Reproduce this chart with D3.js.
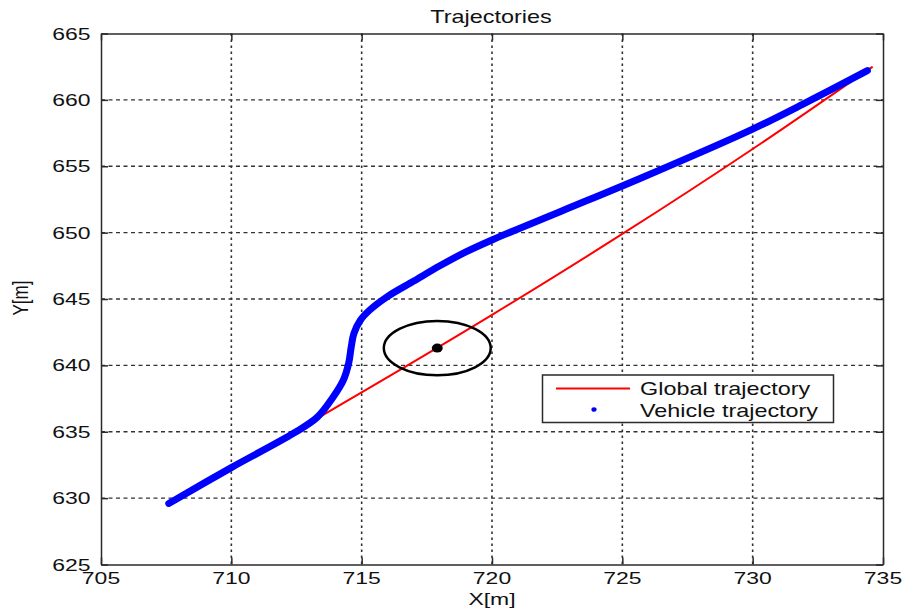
<!DOCTYPE html>
<html>
<head>
<meta charset="utf-8">
<script src="https://cdn.jsdelivr.net/npm/d3@7"></script>
<style>
  body { margin: 0; background: #fff; }
  text { font-family: "Liberation Sans", Arial, sans-serif; fill: #111; }
</style>
</head>
<body>
<svg id="chart" width="919" height="609"></svg>
<script>
// tick values
const xTicks = [705, 710, 715, 720, 725, 730, 735];
const yTicks = [625, 630, 635, 640, 645, 650, 655, 660, 665];

// global (reference) trajectory
const globalX = [707.6, 713.2, 720.0, 725.0, 730.0, 734.6];
const globalY = [629.6, 635.9, 643.8, 649.9, 656.3, 662.5];

// vehicle trajectory
const vehicleX = [707.6, 710.0, 712.4, 713.3, 713.9, 714.3, 714.5, 714.6, 714.7, 714.95, 715.3, 716.0, 717.0, 718.0, 719.0, 720.0, 722.7, 725.7, 730.0, 732.1, 734.4];
const vehicleY = [629.6, 632.3, 634.9, 636.1, 637.6, 638.9, 640.15, 641.4, 642.4, 643.4, 644.15, 645.2, 646.35, 647.5, 648.55, 649.45, 651.65, 654.1, 657.8, 659.85, 662.2];

// obstacle
const obstacleCenter = [717.9, 641.3];
const obstacleRadius = 2.05;

const legendLabels = ["Global trajectory", "Vehicle trajectory"];

const svg = d3.select("#chart");
const plotL = 101, plotR = 883, plotT = 33.5, plotB = 564.5;
const stretch = 1.35;   // the original figure is stretched sideways

const x = d3.scaleLinear().domain([705, 735]).range([plotL, plotR]);
const y = d3.scaleLinear().domain([625, 665]).range([plotB, plotT]);

function label(g, px, py, txt, size, anchor, sx) {
  return g.append("text")
    .attr("transform", `translate(${px},${py}) scale(${sx || stretch},1)`)
    .attr("text-anchor", anchor)
    .attr("font-size", size + "px")
    .text(txt);
}

// white plot background
svg.append("rect")
  .attr("x", plotL).attr("y", plotT)
  .attr("width", plotR - plotL).attr("height", plotB - plotT)
  .attr("fill", "#fff");

// grid
svg.append("g").selectAll("line")
  .data(xTicks.slice(1, -1))
  .enter().append("line")
  .attr("x1", d => x(d)).attr("x2", d => x(d))
  .attr("y1", plotT).attr("y2", plotB)
  .attr("stroke", "#333").attr("stroke-width", 1.6)
  .attr("stroke-dasharray", "2.5,3.5");

svg.append("g").selectAll("line")
  .data(yTicks.slice(1, -1))
  .enter().append("line")
  .attr("x1", plotL).attr("x2", plotR)
  .attr("y1", d => y(d)).attr("y2", d => y(d))
  .attr("stroke", "#333").attr("stroke-width", 1.4)
  .attr("stroke-dasharray", "4,3.5");

// axes (inward ticks on all sides)
const axisStyle = g => {
  g.select(".domain").attr("stroke", "#2a2a2a").attr("stroke-width", 1.5);
  g.selectAll(".tick line").attr("stroke", "#2a2a2a").attr("stroke-width", 1.5);
};
svg.append("g").attr("transform", `translate(0,${plotB})`)
  .call(d3.axisBottom(x).tickValues(xTicks).tickSize(-7).tickSizeOuter(0).tickFormat(""))
  .call(axisStyle);
svg.append("g").attr("transform", `translate(0,${plotT})`)
  .call(d3.axisTop(x).tickValues(xTicks).tickSize(-7).tickSizeOuter(0).tickFormat(""))
  .call(axisStyle);
svg.append("g").attr("transform", `translate(${plotL},0)`)
  .call(d3.axisLeft(y).tickValues(yTicks).tickSize(-7).tickSizeOuter(0).tickFormat(""))
  .call(axisStyle);
svg.append("g").attr("transform", `translate(${plotR},0)`)
  .call(d3.axisRight(y).tickValues(yTicks).tickSize(-7).tickSizeOuter(0).tickFormat(""))
  .call(axisStyle);

// tick labels
const tl = svg.append("g");
xTicks.forEach(d => label(tl, x(d), 584, d, 17, "middle"));
yTicks.forEach(d => label(tl, 90.5, y(d) + 6, d, 17, "end"));

// global trajectory
svg.append("path")
  .datum(d3.zip(globalX, globalY))
  .attr("d", d3.line().x(d => x(d[0])).y(d => y(d[1])).curve(d3.curveMonotoneX))
  .attr("fill", "none")
  .attr("stroke", "#ff0000")
  .attr("stroke-width", 2);

// vehicle trajectory (dense dot markers -> thick band)
svg.append("path")
  .datum(d3.zip(vehicleX, vehicleY))
  .attr("d", d3.line().x(d => x(d[0])).y(d => y(d[1])).curve(d3.curveCatmullRom))
  .attr("fill", "none")
  .attr("stroke", "#0000ff")
  .attr("stroke-width", 7)
  .attr("stroke-linecap", "round")
  .attr("stroke-linejoin", "round");

// obstacle
svg.append("ellipse")
  .attr("cx", x(obstacleCenter[0])).attr("cy", y(obstacleCenter[1]))
  .attr("rx", x(obstacleCenter[0] + obstacleRadius) - x(obstacleCenter[0]))
  .attr("ry", y(obstacleCenter[1]) - y(obstacleCenter[1] + obstacleRadius))
  .attr("fill", "none").attr("stroke", "#000").attr("stroke-width", 2.5);
svg.append("ellipse")
  .attr("cx", x(obstacleCenter[0])).attr("cy", y(obstacleCenter[1]))
  .attr("rx", 5.5).attr("ry", 4.5)
  .attr("fill", "#000");

// legend
const lg = svg.append("g");
lg.append("rect")
  .attr("x", 542.5).attr("y", 375).attr("width", 291).attr("height", 47.5)
  .attr("fill", "#fff").attr("stroke", "#2a2a2a").attr("stroke-width", 1.5);
lg.append("line")
  .attr("x1", 556).attr("x2", 630).attr("y1", 388.5).attr("y2", 388.5)
  .attr("stroke", "#ff0000").attr("stroke-width", 2);
lg.append("ellipse")
  .attr("cx", 594).attr("cy", 409.5).attr("rx", 2.6).attr("ry", 2.3)
  .attr("fill", "#0000ff");
label(lg, 640, 395, legendLabels[0], 18, "start", 1.3);
label(lg, 640, 416.5, legendLabels[1], 18, "start", 1.3);

// titles
label(svg, 491, 22.5, "Trajectories", 18, "middle", 1.3);
label(svg, 492, 605, "X[m]", 17, "middle");
svg.append("text")
  .attr("transform", `translate(28,298) rotate(-90) scale(1,1.3)`)
  .attr("text-anchor", "middle")
  .attr("font-size", "17px")
  .text("Y[m]");
</script>
</body>
</html>
